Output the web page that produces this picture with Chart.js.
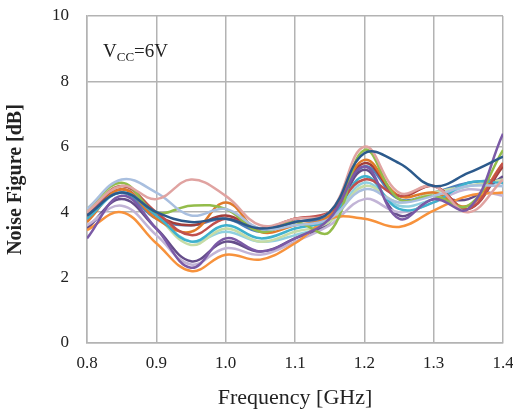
<!DOCTYPE html>
<html>
<head>
<meta charset="utf-8">
<script src="https://cdn.jsdelivr.net/npm/chart.js@4.4.1/dist/chart.umd.min.js"></script>
<style>
  html, body { margin: 0; padding: 0; background: #ffffff; }
  #wrap { width: 513px; height: 415px; position: relative; }
</style>
</head>
<body>
<div id="wrap"><canvas id="nfChart"></canvas></div>
<script>
// frequency points [GHz]
const freqs = [0.8, 0.85, 0.9, 0.95, 1.0, 1.05, 1.1, 1.15, 1.2, 1.25, 1.3, 1.35, 1.4];

// noise figure [dB] per measured sample
const nfDarkBlue    = [3.9, 4.6, 4.0, 3.7, 3.8, 3.5, 3.7, 4.0, 5.8, 5.5, 4.8, 5.2, 5.7];
const nfPurple      = [3.2, 4.5, 3.5, 2.3, 3.2, 2.8, 3.2, 3.8, 5.4, 3.8, 4.4, 4.1, 6.4];
const nfPink        = [4.0, 4.8, 4.4, 5.0, 4.5, 3.6, 3.8, 4.0, 6.0, 4.6, 4.8, 4.0, 5.0];
const nfLightBlue   = [4.1, 5.0, 4.6, 3.9, 4.1, 3.5, 3.6, 3.8, 4.7, 4.3, 4.5, 4.8, 4.8];
const nfGreen       = [4.1, 4.9, 4.0, 4.2, 4.1, 3.4, 3.7, 3.4, 5.9, 4.4, 4.5, 4.2, 5.9];
const nfRed         = [3.9, 4.8, 4.0, 3.3, 3.8, 3.5, 3.8, 4.0, 5.0, 4.5, 4.8, 4.1, 5.5];
const nfAqua        = [3.8, 4.6, 3.9, 3.1, 3.6, 3.2, 3.5, 3.8, 5.1, 4.1, 4.3, 4.9, 4.9];
const nfOrange      = [3.45, 4.0, 3.05, 2.2, 2.7, 2.55, 3.05, 3.8, 3.8, 3.55, 4.05, 4.5, 4.6];
const nfDarkOrange  = [3.7, 4.7, 3.8, 3.4, 4.3, 3.4, 3.6, 3.9, 5.6, 4.5, 4.6, 4.2, 5.5];
const nfDarkRed     = [3.8, 4.7, 3.9, 3.6, 3.9, 3.5, 3.8, 4.0, 5.5, 4.5, 4.8, 4.1, 5.4];
const nfLightPurple = [3.6, 4.2, 3.3, 2.4, 2.9, 2.7, 3.1, 3.6, 4.4, 4.0, 4.3, 4.7, 4.5];
const nfLightGreen  = [4.0, 4.8, 3.9, 3.0, 3.5, 3.1, 3.4, 3.7, 4.8, 4.3, 4.6, 4.8, 5.0];
const nfDarkPurple  = [3.5, 4.4, 3.5, 2.5, 3.1, 2.8, 3.2, 3.7, 5.3, 3.9, 4.4, 4.4, 5.1];
const nfBlue        = [3.9, 4.6, 3.8, 3.6, 3.8, 3.4, 3.7, 3.9, 5.4, 4.4, 4.6, 4.9, 5.0];
const nfLightAqua   = [3.9, 4.6, 3.9, 3.1, 3.4, 3.1, 3.3, 3.7, 4.9, 4.2, 4.4, 4.8, 4.8];

const xTicks = [0.8, 0.9, 1.0, 1.1, 1.2, 1.3, 1.4];
const yTicks = [0, 2, 4, 6, 8, 10];

const series = [
    { data: nfDarkBlue, color: "#2c5a8c" },
    { data: nfPurple, color: "#7b5aa6" },
    { data: nfPink, color: "#e0a3a1" },
    { data: nfLightBlue, color: "#a9bfdf" },
    { data: nfGreen, color: "#93bc4a" },
    { data: nfRed, color: "#c0504d" },
    { data: nfAqua, color: "#3fb1cd" },
    { data: nfOrange, color: "#f7923c" },
    { data: nfDarkOrange, color: "#e07a2a" },
    { data: nfDarkRed, color: "#a33e3b" },
    { data: nfLightPurple, color: "#c2b4d6" },
    { data: nfLightGreen, color: "#c6dca6" },
    { data: nfDarkPurple, color: "#654d8a" },
    { data: nfBlue, color: "#4f81bd" },
    { data: nfLightAqua, color: "#8fd0e0" },
];

const gridColor = "#b3b3b3";
const serif = "'Liberation Serif', 'Times New Roman', serif";

// V_CC label in the top-left of the plot
const vccLabel = {
    id: "vccLabel",
    afterDraw(chart) {
        const { ctx, chartArea } = chart;
        const x = chartArea.left + 16;
        const y = chartArea.top + 41;
        ctx.save();
        ctx.fillStyle = "#222";
        ctx.textBaseline = "alphabetic";
        ctx.font = "19px " + serif;
        ctx.fillText("V", x, y);
        let w = ctx.measureText("V").width;
        ctx.font = "13px " + serif;
        ctx.fillText("CC", x + w, y + 4);
        w += ctx.measureText("CC").width;
        ctx.font = "19px " + serif;
        ctx.fillText("=6V", x + w, y);
        ctx.restore();
    },
};

new Chart(document.getElementById("nfChart"), {
    type: "line",
    data: {
        datasets: series.map((s) => ({
            data: s.data.map((v, i) => ({ x: freqs[i], y: v })),
            borderColor: s.color,
            backgroundColor: s.color,
            borderWidth: 2.5,
            pointRadius: 0,
            tension: 0.4,
            fill: false,
        })),
    },
    options: {
        responsive: true,
        maintainAspectRatio: false,
        animation: false,
        layout: { padding: { top: 16, right: 10, left: 0, bottom: 0 } },
        plugins: {
            legend: { display: false },
            tooltip: { enabled: false },
        },
        scales: {
            x: {
                type: "linear",
                min: 0.8,
                max: 1.4,
                afterFit(scale) {
                    scale.height = 72;
                    scale.paddingLeft = 0;
                    scale.paddingRight = 0;
                },
                afterBuildTicks(scale) {
                    scale.ticks = xTicks.map((v) => ({ value: v }));
                },
                grid: { color: gridColor, lineWidth: 1.5, drawTicks: false },
                border: { color: gridColor, width: 1.5 },
                ticks: {
                    color: "#222",
                    font: { family: serif, size: 17 },
                    padding: 10,
                    maxRotation: 0,
                    callback: (v) => Number(v).toFixed(1),
                },
                title: {
                    display: true,
                    text: "Frequency [GHz]",
                    color: "#222",
                    font: { family: serif, size: 22 },
                    padding: { top: 8 },
                },
            },
            y: {
                min: 0,
                max: 10,
                afterFit(scale) {
                    scale.width = 87;
                    scale.paddingTop = 0;
                    scale.paddingBottom = 0;
                },
                afterBuildTicks(scale) {
                    scale.ticks = yTicks.map((v) => ({ value: v }));
                },
                grid: { color: gridColor, lineWidth: 1.5, drawTicks: false },
                border: { color: gridColor, width: 1.5 },
                ticks: {
                    color: "#222",
                    font: { family: serif, size: 17 },
                    padding: 18,
                },
                title: {
                    display: true,
                    text: "Noise Figure [dB]",
                    color: "#222",
                    font: { family: serif, size: 20, weight: "bold" },
                    padding: { bottom: 4 },
                },
            },
        },
    },
    plugins: [vccLabel],
});
</script>
</body>
</html>
